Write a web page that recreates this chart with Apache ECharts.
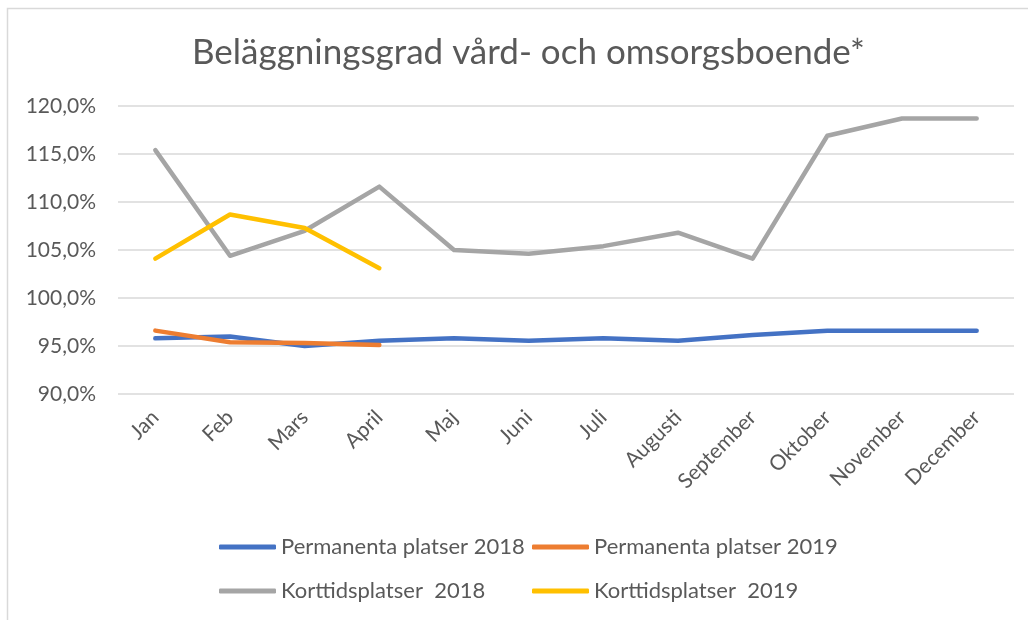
<!DOCTYPE html>
<html>
<head>
<meta charset="utf-8">
<script src="https://cdn.jsdelivr.net/npm/echarts@6/dist/echarts.min.js"></script>
<style>
html,body{margin:0;padding:0;background:#fff;}
#c{width:1028px;height:620px;}
</style>
</head>
<body>
<div id="c"></div>
<script>
var categories = ['Jan','Feb','Mars','April','Maj','Juni','Juli','Augusti','September','Oktober','November','December'];
var permanenta2018 = [95.8, 96.0, 95.0, 95.55, 95.8, 95.55, 95.8, 95.55, 96.15, 96.6, 96.6, 96.6];
var permanenta2019 = [96.6, 95.4, 95.3, 95.1];
var korttid2018 = [115.4, 104.4, 107.0, 111.6, 105.0, 104.6, 105.4, 106.8, 104.1, 116.9, 118.7, 118.7];
var korttid2019 = [104.1, 108.7, 107.3, 103.1];
var seriesNames = ['Permanenta platser 2018','Permanenta platser 2019','Korttidsplatser  2018','Korttidsplatser  2019'];
var yTicks = {min: 90, max: 120, interval: 5};

var colors = ['#4472C4','#ED7D31','#A5A5A5','#FFC000'];
var font = 'Lato, "Open Sans", sans-serif';
var chart = echarts.init(document.getElementById('c'));

function mkSeries(name, data, color, z) {
  return {
    name: name, type: 'line', data: data, symbol: 'none', z: z,
    lineStyle: {color: color, width: 4.5, cap: 'round', join: 'round'},
    itemStyle: {color: color}
  };
}
function mkLegend(name, left, top) {
  return {
    data: [name], left: left, top: top, icon: 'roundRect', padding: 0,
    itemWidth: 57, itemHeight: 5, itemGap: 0,
    textStyle: {color: '#595959', fontSize: 22, fontFamily: font},
    selectedMode: false
  };
}

chart.setOption({
  backgroundColor: '#fff',
  animation: false,
  title: {
    text: 'Beläggningsgrad vård- och omsorgsboende*',
    left: 187, top: 30,
    textStyle: {color: '#595959', fontSize: 35, fontWeight: 'normal', fontFamily: font}
  },
  graphic: [{
    type: 'rect', shape: {x: 7.5, y: 8.5, width: 1100, height: 700},
    style: {fill: 'none', stroke: '#d9d9d9', lineWidth: 1.5}, silent: true
  }],
  legend: [
    mkLegend(seriesNames[0], 219, 536),
    mkLegend(seriesNames[1], 532, 536),
    mkLegend(seriesNames[2], 219, 580),
    mkLegend(seriesNames[3], 532, 580)
  ],
  grid: {left: 118, right: 14, top: 106, bottom: 226, containLabel: false},
  xAxis: {
    type: 'category', data: categories, boundaryGap: true,
    axisLine: {show: false}, axisTick: {show: false},
    axisLabel: {rotate: 45, color: '#595959', fontSize: 21, fontFamily: font, margin: 20, interval: 0}
  },
  yAxis: {
    type: 'value', min: yTicks.min, max: yTicks.max, interval: yTicks.interval,
    axisLine: {show: false}, axisTick: {show: false},
    axisLabel: {color: '#595959', fontSize: 21, fontFamily: font, margin: 22,
      formatter: function(v){ return v.toFixed(1).replace('.', ',') + '%'; }},
    splitLine: {lineStyle: {color: '#d9d9d9', width: 1.5}}
  },
  series: [
    mkSeries(seriesNames[0], permanenta2018, colors[0], 2),
    mkSeries(seriesNames[1], permanenta2019, colors[1], 3),
    mkSeries(seriesNames[2], korttid2018, colors[2], 2),
    mkSeries(seriesNames[3], korttid2019, colors[3], 3)
  ]
});
</script>
</body>
</html>
